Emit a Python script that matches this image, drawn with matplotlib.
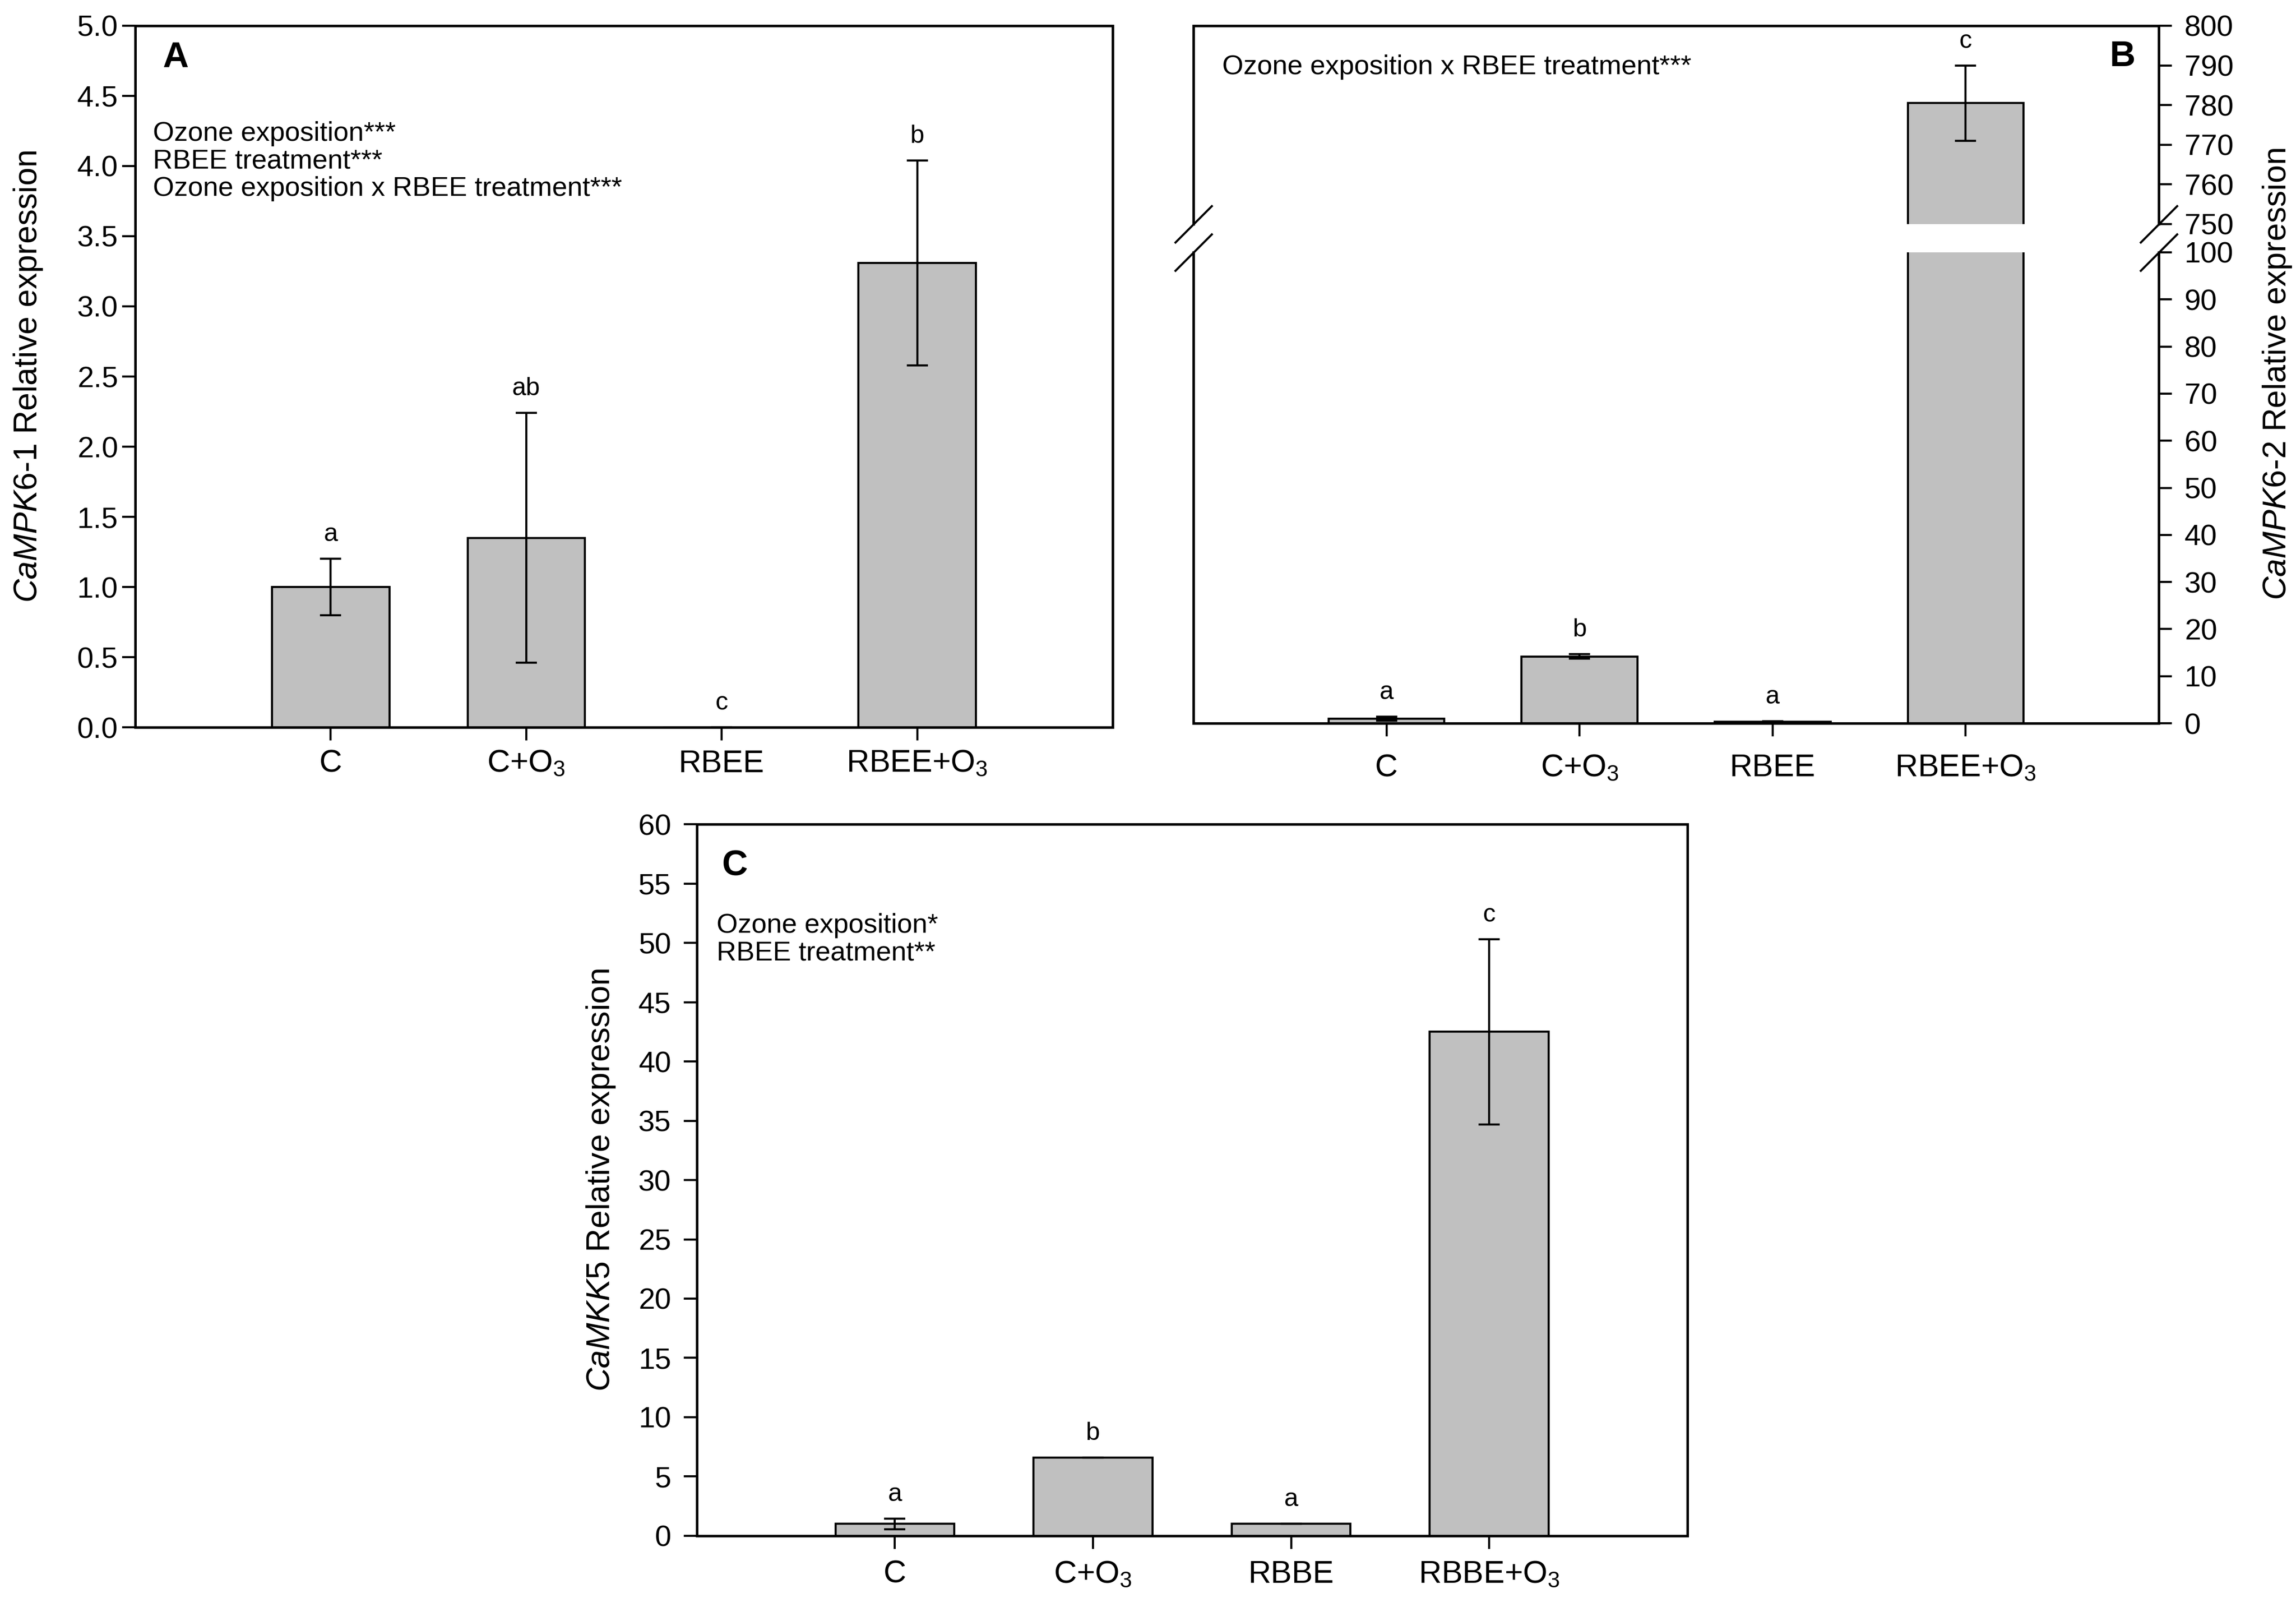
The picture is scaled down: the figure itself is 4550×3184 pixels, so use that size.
import numpy as np
import matplotlib
matplotlib.use("Agg")
import matplotlib.pyplot as plt

#--------------------------------------------------------------------------------------
# data
#--------------------------------------------------------------------------------------
groups_ab = ["C", "C+O$_3$", "RBEE", "RBEE+O$_3$"]
groups_c = ["C", "C+O$_3$", "RBBE", "RBBE+O$_3$"]

mpk61_mean = [1.00, 1.35, 0.0, 3.31]
mpk61_err = [0.20, 0.89, 0.0, 0.73]
mpk61_letters = ["a", "ab", "c", "b"]

mpk62_mean = [1.0, 14.2, 0.3, 780.5]
mpk62_err = [0.4, 0.5, 0.1, 9.5]
mpk62_letters = ["a", "b", "a", "c"]

mkk5_mean = [1.0, 6.6, 1.0, 42.5]
mkk5_err = [0.45, 0.0, 0.0, 7.8]
mkk5_letters = ["a", "b", "a", "c"]

stats_a = "Ozone exposition***\nRBEE treatment***\nOzone exposition x RBEE treatment***"
stats_b = "Ozone exposition x RBEE treatment***"
stats_c = "Ozone exposition*\nRBEE treatment**"

#--------------------------------------------------------------------------------------
# style
#--------------------------------------------------------------------------------------
plt.rcParams['font.family'] = ['Liberation Sans', 'DejaVu Sans']
plt.rcParams['mathtext.fontset'] = 'custom'
plt.rcParams['mathtext.rm'] = 'Liberation Sans'
plt.rcParams['mathtext.it'] = 'Liberation Sans:italic'
plt.rcParams['axes.linewidth'] = 1.2

bar_color = "#c0c0c0"
bar_w = 0.6

fig = plt.figure(figsize=(4550/300, 3184/300), dpi=300)


def draw_bars(ax, means, errs, letters, clip=False):
    x = np.arange(len(means))
    ax.bar(x, means, width=bar_w, color=bar_color, edgecolor="black", linewidth=1.0, zorder=2)
    ax.errorbar(x, means, yerr=errs, fmt="none", ecolor="black", elinewidth=1.0,
                capsize=5, capthick=1.0, zorder=3)
    for xi, m, e, lab in zip(x, means, errs, letters):
        ax.annotate(lab, xy=(xi, m + e), xytext=(0, 6), textcoords="offset points",
                    ha="center", va="bottom", fontsize=12, annotation_clip=clip)
    ax.set_xlim(-1, 4)
    ax.set_xticks(x)


#--------------------------------------------------------------------------------------
# panel A
#--------------------------------------------------------------------------------------
axA = fig.add_axes([0.0589, 0.5474, 0.4257, 0.4366])
draw_bars(axA, mpk61_mean, mpk61_err, mpk61_letters)
axA.set_xticklabels(groups_ab)
axA.set_ylim(0, 5)
axA.set_yticks(np.arange(0, 5.01, 0.5))
axA.set_yticklabels(["%.1f" % v for v in np.arange(0, 5.01, 0.5)])
axA.tick_params(axis="y", direction="out", length=6.2, width=1.0, labelsize=14, pad=2)
axA.tick_params(axis="x", direction="out", length=6.2, width=1.0, labelsize=15, pad=4)
axA.set_ylabel(r"$\mathit{CaMPK6}$-$\mathit{1}$ Relative expression", fontsize=15.5)
axA.yaxis.set_label_coords(-0.093, 0.5)
axA.text(0.028, 0.978, "A", transform=axA.transAxes, fontsize=17, fontweight="bold",
         ha="left", va="top")
axA.text(0.018, 0.864, stats_a, transform=axA.transAxes, fontsize=13, ha="left",
         va="top", linespacing=1.12)

#--------------------------------------------------------------------------------------
# panel B (broken axis)
#--------------------------------------------------------------------------------------
axBu = fig.add_axes([0.5198, 0.8606, 0.4204, 0.1234])
axBl = fig.add_axes([0.5198, 0.5499, 0.4204, 0.2931])
for ax in (axBu, axBl):
    draw_bars(ax, mpk62_mean, mpk62_err, mpk62_letters, clip=True)
    ax.yaxis.tick_right()
    ax.tick_params(axis="y", direction="out", length=6.2, width=1.0, labelsize=14, pad=6)
axBu.set_ylim(750, 800)
axBu.set_yticks(np.arange(750, 801, 10))
axBl.set_ylim(0, 100)
axBl.set_yticks(np.arange(0, 101, 10))
axBu.spines["bottom"].set_visible(False)
axBl.spines["top"].set_visible(False)
axBu.tick_params(axis="x", bottom=False, labelbottom=False)
axBl.set_xticklabels(groups_ab)
axBl.tick_params(axis="x", direction="out", length=6.2, width=1.0, labelsize=15, pad=8)

brk = dict(marker=[(-1, -1), (1, 1)], markersize=18, linestyle="none", color="k",
           mec="k", mew=1.0, clip_on=False)
axBu.plot([0, 1], [0, 0], transform=axBu.transAxes, **brk)
axBl.plot([0, 1], [1, 1], transform=axBl.transAxes, **brk)

axBl.yaxis.set_label_position("right")
axBl.set_ylabel(r"$\mathit{CaMPK6}$-$\mathit{2}$ Relative expression", fontsize=15.5)
axBl.yaxis.set_label_coords(1.106, 0.741)
axBu.text(0.949, 0.926, "B", transform=axBu.transAxes, fontsize=17, fontweight="bold",
          ha="left", va="top")
axBu.text(0.030, 0.791, stats_b, transform=axBu.transAxes, fontsize=13, ha="left",
          va="center")

#--------------------------------------------------------------------------------------
# panel C
#--------------------------------------------------------------------------------------
axC = fig.add_axes([0.3035, 0.0443, 0.4314, 0.4428])
draw_bars(axC, mkk5_mean, mkk5_err, mkk5_letters)
axC.set_xticklabels(groups_c)
axC.set_ylim(0, 60)
axC.set_yticks(np.arange(0, 61, 5))
axC.tick_params(axis="y", direction="out", length=6.2, width=1.0, labelsize=14, pad=6)
axC.tick_params(axis="x", direction="out", length=6.2, width=1.0, labelsize=15, pad=5)
axC.set_ylabel(r"$\mathit{CaMKK5}$ Relative expression", fontsize=15.5)
axC.yaxis.set_label_coords(-0.0805, 0.5)
axC.text(0.025, 0.9645, "C", transform=axC.transAxes, fontsize=17, fontweight="bold",
         ha="left", va="top")
axC.text(0.020, 0.875, stats_c, transform=axC.transAxes, fontsize=13, ha="left",
         va="top", linespacing=1.12)

plt.savefig("out.png", dpi=300)
